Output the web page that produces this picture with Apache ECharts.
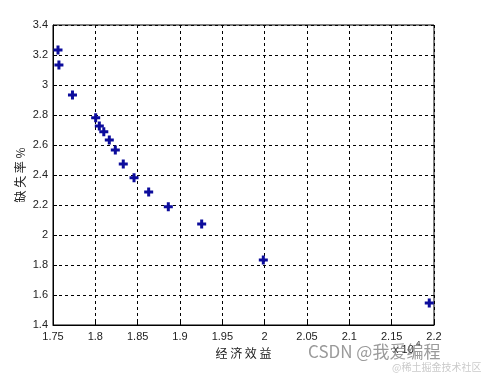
<!DOCTYPE html>
<html><head><meta charset="utf-8">
<script src="https://cdn.jsdelivr.net/npm/echarts@6/dist/echarts.min.js"></script>
<style>html,body{margin:0;padding:0;background:#fff}#c{width:483px;height:374px}</style>
</head><body><div id="c"></div>
<script>
const xValues = [1.7559, 1.757, 1.773, 1.8004, 1.8047, 1.810, 1.8165, 1.8236, 1.833, 1.8457, 1.863, 1.8862, 1.9256, 1.9984, 2.1944];
const yValues = [3.233, 3.133, 2.933, 2.782, 2.727, 2.689, 2.633, 2.567, 2.473, 2.382, 2.287, 2.189, 2.073, 1.833, 1.547];
const xTitle = '经 济 效 益';
const yTitle = '缺 失 率 %';

const chart = echarts.init(document.getElementById('c'));
const fmt = v => String(+(+v).toFixed(2));
const plus = 'path://M3,0H6V3H9V6H6V9H3V6H0V3H3Z';
chart.setOption({
  animation: false,
  backgroundColor: '#fff',
  grid: {left: 53, top: 25, right: 49, bottom: 49, show: true, borderColor: '#000', borderWidth: 1, backgroundColor: 'transparent'},
  xAxis: {
    type: 'value', min: 1.75, max: 2.2, interval: 0.05,
    axisLine: {show: true, lineStyle: {color: '#000', width: 1}},
    axisTick: {show: true, inside: true, length: 4, lineStyle: {color: '#000'}},
    axisLabel: {formatter: fmt, color: '#222', fontFamily: 'Liberation Sans, Arial', fontSize: 11, margin: 6, showMinLabel: true, showMaxLabel: true},
    splitLine: {show: true, lineStyle: {color: '#000', type: [3, 3], width: 1}},
    name: xTitle, nameLocation: 'middle', nameGap: 22,
    nameTextStyle: {color: '#222', fontSize: 12, fontFamily: 'Noto Sans CJK SC'}
  },
  yAxis: {
    type: 'value', min: 1.4, max: 3.4, interval: 0.2,
    axisLine: {show: true, lineStyle: {color: '#000', width: 1}},
    axisTick: {show: true, inside: true, length: 4, lineStyle: {color: '#000'}},
    axisLabel: {formatter: fmt, color: '#222', fontFamily: 'Liberation Sans, Arial', fontSize: 11, margin: 5},
    splitLine: {show: true, lineStyle: {color: '#000', type: [3, 3], width: 1}},
    name: yTitle, nameLocation: 'middle', nameGap: 27, nameMoveOverlap: false,
    nameTextStyle: {color: '#222', fontSize: 12, fontFamily: 'Noto Sans CJK SC'}
  },
  series: [{
    type: 'scatter',
    data: xValues.map((x, i) => [x, yValues[i]]),
    symbol: plus, symbolSize: 9,
    itemStyle: {color: '#0c0c9c', opacity: 1}
  }],
  graphic: [
    {type: 'text', left: 393, top: 344, style: {text: 'x 10', fill: '#222', font: '11px Liberation Sans'}},
    {type: 'text', left: 416, top: 340, style: {text: '4', fill: '#222', font: '8px Liberation Sans'}},
    {type: 'text', left: 308, top: 343, style: {text: 'CSDN @我爱编程', fill: 'rgba(120,120,120,0.75)', font: '17px Noto Sans CJK SC'}},
    {type: 'text', left: 392, top: 362, style: {text: '@稀土掘金技术社区', fill: 'rgba(150,150,150,0.5)', font: '10px Noto Sans CJK SC'}}
  ]
});
</script></body></html>
